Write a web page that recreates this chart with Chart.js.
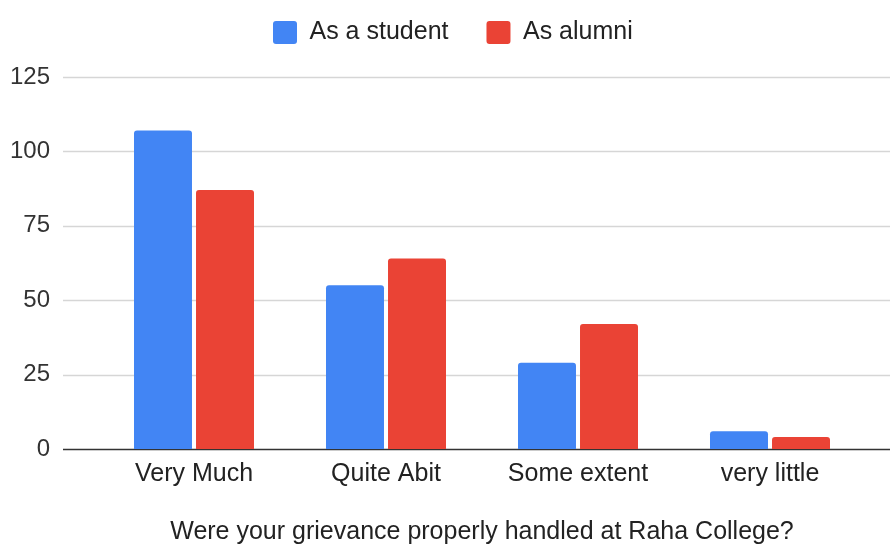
<!DOCTYPE html>
<html>
<head>
<meta charset="utf-8">
<script src="https://cdn.jsdelivr.net/npm/chart.js@4.4.1/dist/chart.umd.min.js"></script>
<style>
  html, body { margin: 0; padding: 0; background: #fff; }
  #wrap { width: 890px; height: 545px; }
</style>
</head>
<body>
<div id="wrap"><canvas id="chart" width="890" height="545"></canvas></div>
<script>
// grievance survey data
const categories = ['Very Much', 'Quite Abit', 'Some extent', 'very little'];
const studentValues = [107, 55, 29, 6];
const alumniValues = [87, 64, 42, 4];
const yTicks = [0, 25, 50, 75, 100, 125];

const FONT = 'Liberation Sans, Arial, Helvetica, sans-serif';

// horizontal gridlines that run past the plot area, like the sheet chart
const wideGrid = {
    id: 'wideGrid',
    beforeDatasetsDraw(chart) {
        const ctx = chart.ctx;
        const y = chart.scales.y;
        ctx.save();
        yTicks.forEach(v => {
            const py = Math.round(y.getPixelForValue(v)) + 0.5;
            ctx.beginPath();
            ctx.lineWidth = 1.5;
            ctx.strokeStyle = v === 0 ? '#333333' : '#d6d6d6';
            ctx.moveTo(63, py);
            ctx.lineTo(chart.width, py);
            ctx.stroke();
        });
        ctx.restore();
    }
};

// legend band height + nudge it right so it sits where the sheet puts it
const legendSize = {
    id: 'legendSize',
    beforeInit(chart) {
        const legend = chart.legend;
        const fit = legend.fit;
        legend.fit = function () {
            fit.bind(legend)();
            this.height = 95;
        };
        const draw = legend.draw;
        legend.draw = function () {
            const boxes = this.legendHitBoxes || [];
            const dx = boxes.length ? 273 - boxes[0].left : 0;
            chart.ctx.save();
            chart.ctx.translate(dx, 0);
            draw.call(legend);
            chart.ctx.restore();
        };
    }
};

new Chart(document.getElementById('chart'), {
    type: 'bar',
    data: {
        labels: categories,
        datasets: [
            {
                label: 'As a student',
                data: studentValues,
                backgroundColor: '#4285F4',
                borderRadius: { topLeft: 3, topRight: 3 },
                borderSkipped: 'bottom',
                categoryPercentage: 0.646,
                barPercentage: 0.935
            },
            {
                label: 'As alumni',
                data: alumniValues,
                backgroundColor: '#EA4335',
                borderRadius: { topLeft: 3, topRight: 3 },
                borderSkipped: 'bottom',
                categoryPercentage: 0.646,
                barPercentage: 0.935
            }
        ]
    },
    options: {
        responsive: false,
        animation: false,
        layout: { padding: { left: 0, right: 24, top: -18, bottom: 0 } },
        plugins: {
            legend: {
                position: 'top',
                labels: {
                    boxWidth: 24,
                    boxHeight: 23,
                    useBorderRadius: true,
                    borderRadius: 3,
                    padding: 38,
                    color: '#222',
                    font: { family: FONT, size: 25 }
                }
            },
            tooltip: { enabled: false }
        },
        scales: {
            x: {
                grid: { display: false, drawTicks: false },
                border: { display: false },
                ticks: { color: '#222', padding: 10, font: { family: FONT, size: 25 } },
                title: {
                    display: true,
                    text: 'Were your grievance properly handled at Raha College?',
                    color: '#222',
                    padding: { top: 4, bottom: -2 },
                    font: { family: FONT, size: 25 }
                },
                afterFit(scale) { scale.height = 96; }
            },
            y: {
                min: 0,
                max: 125,
                grid: { display: false, drawTicks: false },
                border: { display: false },
                afterBuildTicks(scale) { scale.ticks = yTicks.map(v => ({ value: v })); },
                ticks: { color: '#333', padding: 48, font: { family: FONT, size: 24 } },
                afterFit(scale) { scale.width = 98; }
            }
        }
    },
    plugins: [wideGrid, legendSize]
});
</script>
</body>
</html>
